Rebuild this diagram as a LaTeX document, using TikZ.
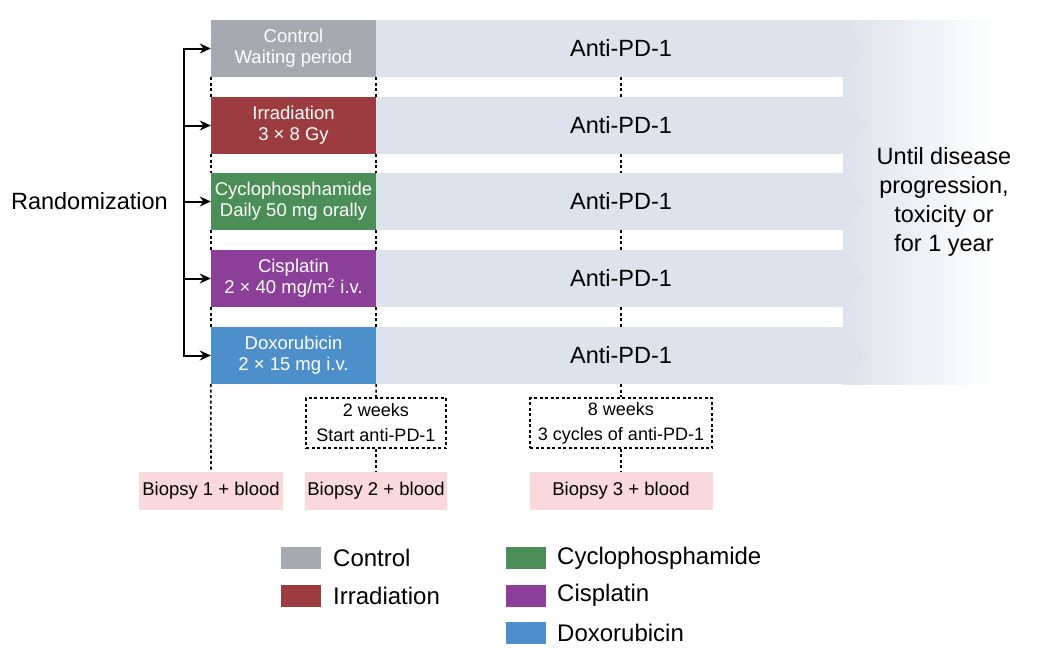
\documentclass[tikz,border=0pt]{standalone}
\usepackage{fontspec}
\setmainfont{Liberation Sans}
\usetikzlibrary{arrows.meta,calc}
\definecolor{ctrlc}{HTML}{A7A9B1}
\definecolor{irrc}{HTML}{9C3B40}
\definecolor{cycc}{HTML}{4B8E57}
\definecolor{cisc}{HTML}{8B3F98}
\definecolor{doxc}{HTML}{4D8FCA}
\definecolor{bandc}{HTML}{DCE3EC}
\definecolor{pinkc}{HTML}{F9D9DC}
\begin{document}
\begin{tikzpicture}[x=1pt,y=-1pt,
  arm/.style={fill=#1, text=white, minimum width=165pt, minimum height=57pt, inner sep=0pt, align=center, font=\fontsize{18.5}{21}\selectfont},
  band/.style={fill=bandc, minimum width=467pt, minimum height=57pt, inner sep=0pt},
  big/.style={font=\fontsize{23.5}{29}\selectfont},
  dots/.style={line width=1.6pt, dash pattern=on 3pt off 2.5pt},
  biopsy/.style={fill=pinkc, minimum height=38pt, inner sep=0pt, font=\fontsize{18.5}{22}\selectfont},
  wk/.style={draw, dots, minimum height=50pt, inner sep=0pt, align=center, font=\fontsize{18}{25}\selectfont},
  arr/.style={line width=2pt, -{Stealth[length=11pt,width=10pt]}},
  leg/.style={minimum width=40pt, minimum height=22pt, inner sep=0pt, fill=#1},
  legt/.style={anchor=west, font=\fontsize{24}{28}\selectfont, inner sep=0pt}
]
\useasboundingbox (0,0) rectangle (1039,670);

% fading region on the right
\shade[left color=bandc, right color=white] (843,20) rectangle (995,384);

% rows
\foreach \i/\y/\c/\t in {
  1/48.5/ctrlc/{Control\\Waiting period},
  2/125.5/irrc/{Irradiation\\3 × 8 Gy},
  3/201.5/cycc/{Cyclophosphamide\\Daily 50 mg orally},
  4/278.5/cisc/{Cisplatin\\2 × 40 mg/m\textsuperscript{2} i.v.},
  5/355.5/doxc/{Doxorubicin\\2 × 15 mg i.v.}} {
  \node[band] (b\i) at (609.5,\y) {};
  \fill[bandc] (b\i.north east) -- ($(b\i.east)+(22,0)$) -- (b\i.south east) -- cycle;
  \node[arm=\c] (arm\i) at (293.5,\y) {\t};
  \node[big] (a\i) at (621,\y) {Anti-PD-1};
}

% dotted guides in the gaps
\foreach \i/\j in {1/2,2/3,3/4,4/5} {
  \draw[dots] (arm\i.south west) -- (arm\j.north west);
  \draw[dots] (arm\i.south east) -- (arm\j.north east);
  \draw[dots] (a\i |- b\i.south) -- (a\j |- b\j.north);
}

% randomization
\node[big, anchor=east, inner sep=0pt] (rand) at (168,201.5) {Randomization};
\coordinate (bt) at (184,48.5);
\coordinate (bb) at (184,355.5);
\draw[line width=2pt, line cap=rect] (bt) -- (bb);
\foreach \i in {1,...,5} {
  \draw[arr] (arm\i.west -| bt) -- (arm\i.west);
}

% right text
\node[big, align=center] (until) at (944,201.5) {Until disease\\progression,\\toxicity or\\for 1 year};

% timeline boxes
\node[wk, minimum width=140pt] (w1) at (376,423) {2 weeks\\Start anti-PD-1};
\node[wk, minimum width=182pt] (w2) at (621,423) {8 weeks\\3 cycles of anti-PD-1};
\node[biopsy, minimum width=144pt] (bp1) at (211,491) {Biopsy 1 + blood};
\node[biopsy, minimum width=142pt] (bp2) at (376,491) {Biopsy 2 + blood};
\node[biopsy, minimum width=183pt] (bp3) at (621,491) {Biopsy 3 + blood};
\draw[dots] (arm5.south west) -- (bp1.north);
\draw[dots] (arm5.south east) -- (w1.north);
\draw[dots] (w1.south) -- (bp2.north);
\draw[dots] (a5 |- b5.south) -- (w2.north);
\draw[dots] (w2.south) -- (bp3.north);

% legend
\node[leg=ctrlc] (l1) at (301,558) {};
\node[legt] (lt1) at (333,558) {Control};
\node[leg=irrc] (l2) at (301,595.5) {};
\node[legt] (lt2) at (333,595.5) {Irradiation};
\node[leg=cycc] (l3) at (525.5,558) {};
\node[legt] (lt3) at (557,558) {Cyclophosphamide};
\node[leg=cisc] (l4) at (525.5,595.5) {};
\node[legt] (lt4) at (557,595.5) {Cisplatin};
\node[leg=doxc] (l5) at (525.5,633) {};
\node[legt] (lt5) at (557,633) {Doxorubicin};
\end{tikzpicture}
\end{document}
